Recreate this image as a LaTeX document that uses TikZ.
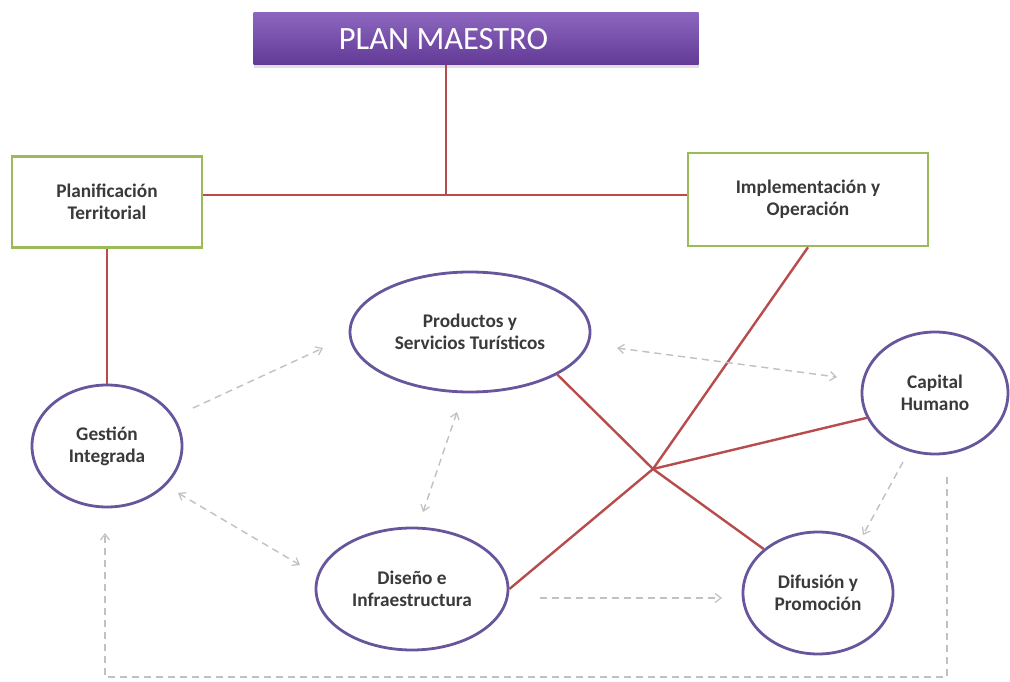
\documentclass[tikz,border=0pt]{standalone}
\usepackage{fontspec}
\setmainfont{Carlito}
\usetikzlibrary{shapes.geometric,arrows.meta,shadows}
\definecolor{ellborder}{RGB}{104,86,156}
\definecolor{redline}{RGB}{184,76,76}
\definecolor{boxgreen}{RGB}{155,187,89}
\definecolor{dashgray}{RGB}{192,192,198}
\definecolor{txtgray}{RGB}{58,58,58}
\definecolor{purpletop}{RGB}{140,102,190}
\definecolor{purplebot}{RGB}{98,58,150}
\begin{document}
\begin{tikzpicture}[x=1pt,y=-1pt,
  ntext/.style={font=\fontsize{19.3}{22}\selectfont\bfseries, text=txtgray, align=center},
  ell/.style={ellipse, draw=ellborder, line width=2.8pt, fill=white, inner sep=0pt, ntext},
  gbox/.style={rectangle, draw=boxgreen, line width=2.5pt, fill=white, inner sep=0pt, ntext},
  redc/.style={draw=redline, line width=2.4pt},
  dsh/.style={draw=dashgray, line width=1.4pt, dash pattern=on 7pt off 5pt},
  tip/.style={-{Straight Barb[length=6pt,width=9pt,line width=1.2pt]}},
  tips/.style={{Straight Barb[length=6pt,width=9pt,line width=1.2pt]}-{Straight Barb[length=6pt,width=9pt,line width=1.2pt]}}
]
\useasboundingbox (0,0) rectangle (1010,682);
\fill[white] (0,0) rectangle (1010,682);

% Top bar
\node[rectangle, minimum width=445pt, minimum height=52pt, inner sep=0pt,
      top color=purpletop, bottom color=purplebot, draw=none,
      drop shadow={opacity=0.25, shadow xshift=0pt, shadow yshift=-3pt},
      text=white, font=\fontsize{32.5}{36}\selectfont] (plan) at (476,39) {PLAN MAESTRO\hspace*{65pt}};

% Boxes
\node[gbox, minimum width=190pt, minimum height=91pt] (pt) at (107,202) {Planificación\\Territorial};
\node[gbox, minimum width=240pt, minimum height=93pt] (io) at (808,199.5) {Implementación y\\Operación};

% Ellipses
\node[ell, minimum width=150pt, minimum height=122pt] (gi) at (107,446) {Gestión\\Integrada};
\node[ell, minimum width=240pt, minimum height=120pt] (ps) at (470,332) {Productos y\\Servicios Turísticos};
\node[ell, minimum width=146pt, minimum height=122pt] (ch) at (935,393) {Capital\\Humano};
\node[ell, minimum width=192pt, minimum height=122pt] (di) at (412,589) {Diseño e\\Infraestructura};
\node[ell, minimum width=150pt, minimum height=122pt] (dp) at (818,593) {Difusión y\\Promoción};

% Red connectors
\coordinate (J) at (446,195);
\coordinate (hub) at (653,469);
\draw[redc] (J |- plan.south) -- (J);
\draw[redc] (pt.east |- J) -- (io.west |- J);
\draw[redc] (pt.south) -- (gi.north);
\draw[redc] (io.south) -- (hub) -- (di.east);
\draw[redc] (ch.200) -- (hub);
\draw[redc] (ps.-26) -- (hub) -- (dp.141);

% Dashed gray arrows
\coordinate (a1s) at (193,408); \coordinate (a1e) at (323,348);
\coordinate (a2s) at (178,493); \coordinate (a2e) at (300,565);
\coordinate (a3s) at (457,412); \coordinate (a3e) at (423,512);
\coordinate (a4s) at (617,348); \coordinate (a4e) at (837,377);
\coordinate (a5s) at (540,598); \coordinate (a5e) at (722,598);
\coordinate (a6s) at (903,462); \coordinate (a6e) at (863,535);
\coordinate (a7s) at (947,477); \coordinate (a7e) at (105,533);
\coordinate (a7b) at (947,677);

\draw[dsh, tip] (a1s) -- (a1e);
\draw[dsh, tips] (a2s) -- (a2e);
\draw[dsh, tips] (a3s) -- (a3e);
\draw[dsh, tips] (a4s) -- (a4e);
\draw[dsh, tip] (a5s) -- (a5e);
\draw[dsh, tip] (a6s) -- (a6e);
\draw[dsh, tip] (a7s) -- (a7b) -| (a7e);
\end{tikzpicture}
\end{document}
